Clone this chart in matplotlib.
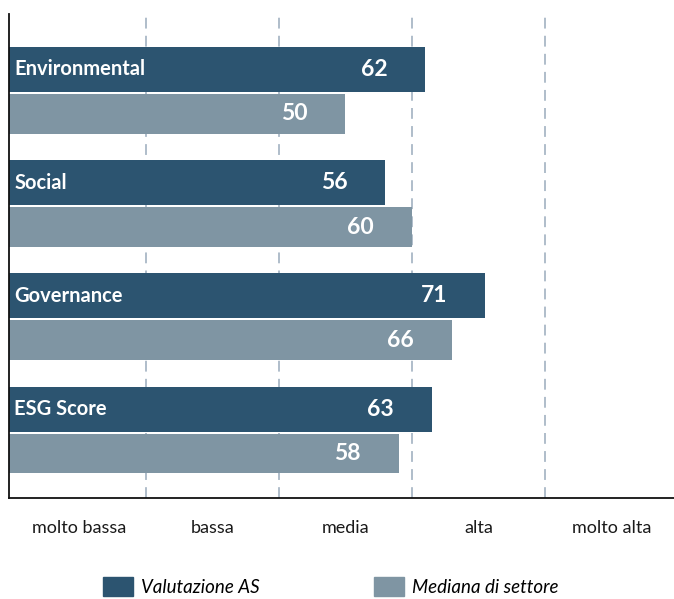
import matplotlib
matplotlib.use("Agg")
import matplotlib.pyplot as plt
from matplotlib.patches import Patch
import numpy as np

categories = ["Environmental", "Social", "Governance", "ESG Score"]
valutazione_as = [62, 56, 71, 63]
mediana_settore = [50, 60, 66, 58]
band_labels = ["molto bassa", "bassa", "media", "alta", "molto alta"]
band_edges = [20, 40, 60, 80]
series_names = ["Valutazione AS", "Mediana di settore"]

DARK = "#2c5470"
LIGHT = "#7f95a3"
GRID = "#a9b8c6"

plt.rcParams["font.family"] = ["Lato", "DejaVu Sans"]

fig = plt.figure(figsize=(6.74, 5.99), dpi=100)
W, H = 674, 599
ax = fig.add_axes([9 / W, 1 - 498 / H, 1 - 9 / W, (498 - 14) / H])

pos = np.arange(len(categories))
h_dark = 0.397
h_light = 0.353
off = h_dark / 2 + 0.018 + h_light / 2

for x in band_edges:
    ax.axvline(x, color=GRID, lw=1.3, dashes=(6, 4), zorder=0)

ax.barh(pos, valutazione_as, height=h_dark, left=-0.6, color=DARK, zorder=2)
ax.barh(pos + off, mediana_settore, height=h_light, left=-0.6, color=LIGHT, zorder=2)
# left offset keeps bar ends at their value while starting at the spine
for p in ax.patches:
    p.set_width(p.get_width() + 0.6)

for i, (c, a, m) in enumerate(zip(categories, valutazione_as, mediana_settore)):
    ax.text(0.2, i, c, color="white", fontsize=14.5, fontweight="bold",
            va="center", ha="left", zorder=3)
    ax.text(a - 5.7, i, str(a), color="white", fontsize=16.5, fontweight="bold",
            va="center", ha="right", zorder=3)
    ax.text(m - 5.7, i + off, str(m), color="white", fontsize=16.5, fontweight="bold",
            va="center", ha="right", zorder=3)

ax.set_xlim(-0.6, 99.4)
ax.set_ylim(3.786, -0.49)
ax.set_yticks([])
ax.set_xticks([10, 30, 50, 70, 90])
ax.set_xticklabels(band_labels, fontsize=13, color="#1a1a1a")
ax.tick_params(axis="x", length=0, pad=16)
for s in ["top", "right"]:
    ax.spines[s].set_visible(False)
for s in ["left", "bottom"]:
    ax.spines[s].set_linewidth(1.3)
    ax.spines[s].set_color("#111111")

handles = [Patch(color=DARK), Patch(color=LIGHT)]
fig.legend(handles, series_names, loc="center left",
           bbox_to_anchor=(103 / W, 1 - 586.5 / H), ncol=2, frameon=False,
           prop={"style": "italic", "size": 13.5},
           handlelength=1.6, handleheight=1.25, handletextpad=0.45,
           columnspacing=6.05, borderpad=0, borderaxespad=0)

fig.savefig("out.png", dpi=100)
